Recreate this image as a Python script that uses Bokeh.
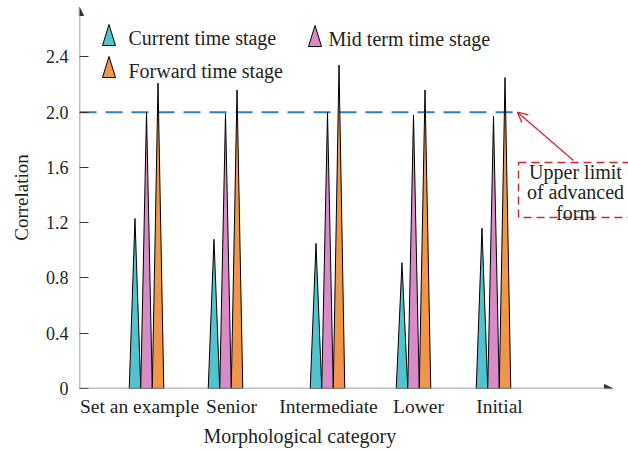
from bokeh.plotting import figure
from bokeh.models import FixedTicker, Label, Arrow, NormalHead, OpenHead, BoxAnnotation, Title
from bokeh.embed import file_html
from bokeh.resources import INLINE

# ---------------- data ----------------
categories = ["Set an example", "Senior", "Intermediate", "Lower", "Initial"]
group_pos = [0.8375, 1.825, 3.1, 4.175, 5.175]
label_pos = [0.75, 1.9, 3.1125, 4.2375, 5.25]
current = [1.23, 1.08, 1.05, 0.91, 1.16]
mid_term = [2.00, 1.99, 2.00, 1.98, 1.97]
forward = [2.21, 2.16, 2.34, 2.16, 2.25]
series_names = ["Current time stage", "Mid term time stage", "Forward time stage"]
colors = ["#50C3CD", "#D78CC8", "#F0964B"]
y_ticks = [0, 0.4, 0.8, 1.2, 1.6, 2.0, 2.4]
y_labels = ["0", "0.4", "0.8", "1.2", "1.6", "2.0", "2.4"]
upper_limit = 2.0
annotation_lines = ["Upper limit", "of advanced", "form"]

FONT = "Liberation Serif"
TXT = "#231F20"

# layout helpers (window px -> data), frame left=79px, bottom=388px
PXX = 80.0
PXY = 138.18
def dx(wx):
    return (wx - 79) / PXX
def dy(wy):
    return (388 - wy) / PXY

p = figure(width=628, height=450, x_range=(0, 549 / PXX), y_range=(0, 382 / PXY),
           output_backend="svg", toolbar_location=None,
           min_border_left=79, min_border_right=0, min_border_top=6, min_border_bottom=62)
p.outline_line_color = None
p.xgrid.grid_line_color = None
p.ygrid.grid_line_color = None
p.background_fill_color = "white"

# axes
p.yaxis.ticker = FixedTicker(ticks=y_ticks)
p.yaxis.major_label_overrides = {t: l for t, l in zip(y_ticks, y_labels)}
p.yaxis.axis_line_color = None
p.yaxis.major_tick_in = 9
p.yaxis.major_tick_out = 0
p.yaxis.major_tick_line_color = "#333333"
p.yaxis.minor_tick_line_color = None
p.yaxis.major_label_standoff = 11
p.yaxis.major_label_text_font = FONT
p.yaxis.major_label_text_font_size = "18px"
p.yaxis.major_label_text_color = TXT
p.yaxis.axis_label = "Correlation"
p.yaxis.axis_label_text_font = FONT
p.yaxis.axis_label_text_font_size = "19px"
p.yaxis.axis_label_text_font_style = "normal"
p.yaxis.axis_label_text_color = TXT
p.yaxis.axis_label_standoff = 11

p.xaxis.ticker = FixedTicker(ticks=label_pos)
p.xaxis.major_label_overrides = {t: c for t, c in zip(label_pos, categories)}
p.xaxis.axis_line_color = None
p.xaxis.major_tick_in = 0
p.xaxis.major_tick_out = 0
p.xaxis.major_tick_line_color = None
p.xaxis.minor_tick_line_color = None
p.xaxis.major_label_standoff = 7
p.xaxis.major_label_text_font = FONT
p.xaxis.major_label_text_font_size = "19.5px"
p.xaxis.major_label_text_color = TXT

# x axis title
p.add_layout(Title(text="Morphological category", align="left", offset=124, standoff=6,
                   text_font=FONT, text_font_size="20px", text_font_style="normal",
                   text_color=TXT), "below")

# upper limit dashed line
p.line(x=[0, dx(512)], y=[upper_limit, upper_limit], line_color="#2E7FC6",
       line_width=2, line_dash="17 9")

# triangles
half_w = 0.072
offset = 0.144
for k, (vals, col) in enumerate(zip([current, mid_term, forward], colors)):
    xs, ys = [], []
    for g, v in zip(group_pos, vals):
        c = g + (k - 1) * offset
        xs.append([c - half_w, c, c + half_w])
        ys.append([0, v, 0])
    p.patches(xs, ys, fill_color=col, line_color="black", line_width=1)

# axis lines with arrows
p.add_layout(Arrow(end=NormalHead(size=8, fill_color="#333333", line_color="#333333"),
                   x_start=0, y_start=0, x_end=dx(612), y_end=0,
                   line_color="#808080", line_width=1.5))
p.add_layout(Arrow(end=NormalHead(size=8, fill_color="#333333", line_color="#333333"),
                   x_start=0, y_start=0, x_end=0, y_end=dy(7),
                   line_color="#808080", line_width=1.5))

# legend (manual)
legend_slots = [(102, 45, 128, 37), (308, 46, 328, 38), (102, 77, 128, 70)]
for name, col, (ix, iy, tx, ty) in zip(series_names, colors, legend_slots):
    p.patch([dx(ix), dx(ix + 6.5), dx(ix + 13)], [dy(iy), dy(iy - 21), dy(iy)],
            fill_color=col, line_color="black", line_width=1)
    p.add_layout(Label(x=dx(tx), y=dy(ty), text=name, text_baseline="middle",
                       text_font=FONT, text_font_size="20px", text_color=TXT))

# annotation
red = "#D22630"
p.add_layout(BoxAnnotation(left=dx(518), right=dx(640), top=dy(162), bottom=dy(217),
                           fill_alpha=0, fill_color=None, line_color=red, line_alpha=1,
                           line_width=1.4, line_dash="8 5"))
p.add_layout(Arrow(end=OpenHead(size=10, line_color=red, line_width=1.3),
                   x_start=dx(573), y_start=dy(160), x_end=dx(517), y_end=upper_limit,
                   line_color=red, line_width=1.3))
for i, line in enumerate(annotation_lines):
    p.add_layout(Label(x=dx(575), y=dy(171 + 20.5 * i), text=line, text_align="center",
                       text_baseline="middle", text_font=FONT, text_font_size="20px",
                       text_color=TXT))

open("out.html", "w").write(file_html(p, INLINE))
